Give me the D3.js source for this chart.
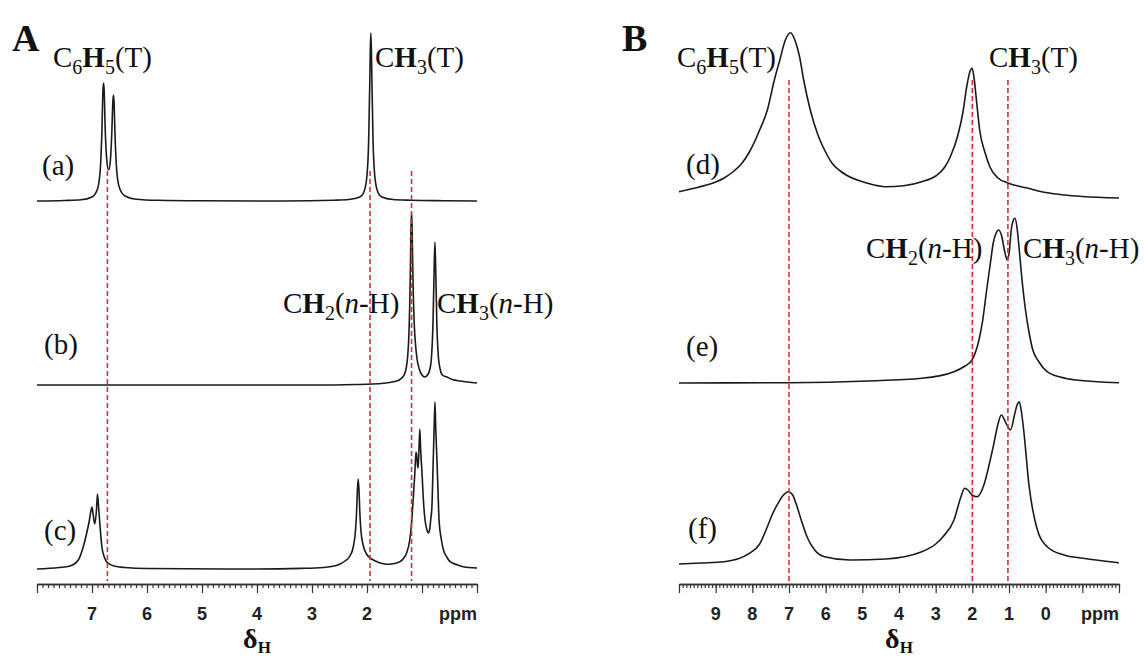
<!DOCTYPE html>
<html>
<head>
<meta charset="utf-8">
<script src="https://cdn.jsdelivr.net/npm/d3@7"></script>
<style>
  html, body { margin: 0; padding: 0; background: #fff; }
  svg { display: block; }
</style>
</head>
<body>
<svg id="chart" width="1144" height="658"></svg>
<script>
// ---- Spectra: [chemical shift (ppm), intensity above the trace's own baseline] ----
// Panel A, trace (a): toluene
const specA_a = [
  [8.0,0],[7.5,0.5],[7.2,1.2],[7.0,4],[6.9,12],[6.85,31],[6.82,70],[6.80,112],[6.79,118],
  [6.78,112],[6.76,72],[6.73,40],[6.70,31],[6.67,38],[6.64,68],[6.62,100],[6.61,106],[6.60,100],
  [6.58,64],[6.55,30],[6.5,13],[6.4,5],[6.2,1.8],[5.8,0.7],[5.0,0.2],[3.5,0],[2.6,0.8],[2.33,1.5],
  [2.13,4],[2.05,10],[2.0,26],[1.97,60],[1.95,117],[1.94,151],[1.93,168],[1.92,151],[1.91,117],
  [1.89,60],[1.86,26],[1.81,10],[1.73,4],[1.53,1.5],[1.2,0.8],[0.6,0.3],[0,0]
];
// Panel A, trace (b): n-heptane
const specA_b = [
  [8,0],[3,0],[2.2,0.5],[1.9,1],[1.7,1.8],[1.5,3.4],[1.4,5.5],[1.33,9.6],[1.29,16],[1.26,29],
  [1.24,48],[1.22,88],[1.21,120],[1.20,156],[1.19,173],[1.18,158],[1.17,125],[1.16,95],[1.14,60],
  [1.12,42],[1.09,26],[1.05,16],[1.0,10],[0.95,8],[0.9,10],[0.86,15],[0.83,26],[0.80,62],[0.78,114],
  [0.765,143],[0.75,114],[0.73,61],[0.70,27],[0.67,16],[0.63,10],[0.55,8],[0.45,5.5],[0.3,4],[0,2]
];
// Panel A, trace (c): mixture
const specA_c = [
  [8,0],[7.6,1.5],[7.4,3],[7.25,9],[7.16,22],[7.1,35],[7.05,48],[7.02,58],[7.0,62],[6.98,55],
  [6.95,45],[6.92,58],[6.9,75],[6.88,62],[6.85,40],[6.82,22],[6.77,11],[6.73,7],[6.6,3],[6.4,1.5],
  [6.0,0.5],[4.0,0],[3.2,0.6],[2.8,1.5],[2.6,3],[2.49,5],[2.4,8],[2.31,13],[2.25,22],[2.21,38],
  [2.19,56],[2.175,78],[2.16,90],[2.145,78],[2.13,56],[2.11,38],[2.07,24],[2.01,15],[1.9,9.5],
  [1.82,7.3],[1.7,5.3],[1.6,4.7],[1.5,5.5],[1.4,7.3],[1.33,11],[1.28,16],[1.22,30],[1.19,46],
  [1.16,70],[1.13,96],[1.11,117],[1.10,115],[1.08,103],[1.07,101],[1.055,120],[1.04,140],
  [1.025,120],[1.0,96],[0.97,65],[0.945,49],[0.91,39],[0.885,36],[0.86,40],[0.84,50],[0.82,62],
  [0.80,100],[0.78,140],[0.764,167],[0.75,140],[0.733,116],[0.71,80],[0.69,49],[0.65,30],
  [0.61,19],[0.55,12],[0.49,7.3],[0.35,4],[0.25,2.3],[0,1]
];
// Panel B, trace (d)
const specB_d = [
  [10,6.3],[9.45,11],[9.0,16],[8.77,20],[8.5,27],[8.3,34],[8.08,46],[7.8,68],[7.59,88],[7.4,118],
  [7.25,138],[7.1,158],[6.96,165.3],[6.83,157],[6.71,141],[6.6,118],[6.42,88],[6.2,62],[6.03,48],
  [5.83,35],[5.6,27],[5.44,23],[4.85,14.7],[4.36,11.3],[3.87,12.3],[3.38,16.3],[3.0,22],[2.75,31],
  [2.6,41.3],[2.4,62],[2.26,85],[2.15,112],[2.06,127],[2.01,130],[1.96,122],[1.88,95],[1.8,68],
  [1.65,45],[1.52,31],[1.3,20],[1.03,15],[0.7,11.5],[0.45,9.5],[0.2,7],[0,5.5],[-0.5,3],
  [-1,1.5],[-2,0]
];
// Panel B, trace (e)
const specB_e = [
  [10,0],[7,0.3],[4.85,2],[3.38,4.7],[2.5,11.3],[2.2,17],[2.01,23],[1.82,43],[1.72,62],[1.62,90],
  [1.5,122],[1.43,140],[1.35,150],[1.28,153],[1.2,147],[1.12,132],[1.05,123],[0.99,132],[0.94,153],
  [0.88,163],[0.84,165],[0.78,155],[0.72,133],[0.65,105],[0.55,73],[0.45,50],[0.35,33],[0.2,22],
  [-0.04,11.3],[-0.4,6],[-0.82,3],[-2,0.3]
];
// Panel B, trace (f)
const specB_f = [
  [10,0],[9.4,1],[8.77,2.3],[8.08,10.7],[7.8,20],[7.59,37.3],[7.45,50],[7.3,60.7],[7.15,69],
  [7.02,72.3],[6.9,69],[6.81,60.7],[6.65,42],[6.51,27.3],[6.3,14],[6.03,7.3],[5.34,4],[4.36,5],
  [3.38,12.3],[3.0,20],[2.8,27.3],[2.5,44],[2.31,67.3],[2.21,75.7],[2.12,74],[2.01,69],[1.87,67.3],
  [1.67,80.7],[1.55,98],[1.43,117.3],[1.3,140],[1.21,149],[1.08,140.7],[0.96,134],[0.84,150.7],
  [0.78,159],[0.72,162.3],[0.66,152],[0.6,134],[0.45,77.3],[0.25,37.3],[-0.04,17.3],[-0.5,9],
  [-1.02,5.7],[-2,1.3]
];

// Vertical stacking offsets of the traces (same units as intensity)
const offsetsA = [383, 199, 15];
const offsetsB = [386, 201, 20];
const traceNamesA = ["(a)", "(b)", "(c)"];
const traceNamesB = ["(d)", "(e)", "(f)"];

// Reference shifts marked with dashed lines
const refLinesA = [6.72, 1.945, 1.19];
const refLinesB = [7.0, 2.0, 1.03];

// Labelled ticks
const tickLabelsA = [7, 6, 5, 4, 3, 2];
const tickLabelsB = [9, 8, 7, 6, 5, 4, 3, 2, 1, 0];

// ---- Layout ----
const svg = d3.select("#chart");
const serif = "'Liberation Serif','Times New Roman',Times,serif";
const sans = "'Liberation Sans',Arial,Helvetica,sans-serif";
const axisY = 584;
const labelSize = 29;

const y = d3.scaleLinear().domain([0, 584]).range([axisY, 0]);
const xA = d3.scaleLinear().domain([8, 0]).range([37, 477]);
const xB = d3.scaleLinear().domain([10, -2]).range([679, 1119]);

function chemLabel(x, yb, parts, size) {
  const t = svg.append("text")
    .attr("x", x)
    .attr("y", yb)
    .attr("font-family", serif)
    .attr("font-size", size)
    .attr("fill", "#111");
  let shifted = 0;
  parts.forEach(p => {
    const s = t.append("tspan").text(p.t);
    if (p.b) s.attr("font-weight", "bold");
    if (p.i) s.attr("font-style", "italic");
    const target = p.sub ? Math.round(size * 0.25) : 0;
    if (target !== shifted) { s.attr("dy", target - shifted); shifted = target; }
    if (p.sub) s.attr("font-size", Math.round(size * 0.68));
  });
  return t;
}

function drawPanel(x, traces, offsets, names, refs, tickLabels, namePos, refTop) {
  const g = svg.append("g");
  const line = d3.line()
    .x(d => x(d[0]))
    .y(d => d[1])
    .curve(d3.curveMonotoneX);

  traces.forEach((tr, i) => {
    const pts = tr.map(d => [d[0], y(d[1] + offsets[i])]);
    g.append("path")
      .attr("d", line(pts))
      .attr("fill", "none")
      .attr("stroke", "#1a1a1a")
      .attr("stroke-width", 1.6)
      .attr("stroke-linejoin", "round");
  });

  // dashed reference lines
  refs.forEach(r => {
    g.append("line")
      .attr("x1", x(r)).attr("x2", x(r))
      .attr("y1", refTop).attr("y2", axisY - 3)
      .attr("stroke", "#e8283c")
      .attr("stroke-width", 1.6)
      .attr("stroke-dasharray", "5,3");
  });

  // axis: minor ticks every 0.1 ppm, major ticks on integers
  const [d0, d1] = x.domain();
  const span = Math.abs(d0 - d1);
  const minor = d3.axisBottom(x).ticks(span * 10).tickSize(4).tickFormat("").tickSizeOuter(0);
  const major = d3.axisBottom(x).ticks(span).tickSize(9).tickFormat("").tickSizeOuter(0);
  [minor, major].forEach(ax => {
    const a = g.append("g").attr("transform", `translate(0,${axisY})`).call(ax);
    a.select(".domain").attr("stroke", "#333").attr("stroke-width", 1.6);
    a.selectAll(".tick line").attr("stroke", "#333").attr("stroke-width", 1.2);
  });

  g.selectAll(".tlabel")
    .data(tickLabels)
    .join("text")
    .attr("class", "tlabel")
    .attr("x", d => x(d))
    .attr("y", 620)
    .attr("text-anchor", "middle")
    .attr("font-family", sans)
    .attr("font-weight", "bold")
    .attr("font-size", 18)
    .attr("fill", "#222")
    .text(d => d);

  g.append("text")
    .attr("x", x.range()[1])
    .attr("y", 620)
    .attr("text-anchor", "end")
    .attr("font-family", sans)
    .attr("font-weight", "bold")
    .attr("font-size", 18)
    .attr("fill", "#222")
    .text("ppm");

  // axis title: delta_H
  const cx = (x.range()[0] + x.range()[1]) / 2;
  const t = svg.append("text")
    .attr("x", cx)
    .attr("y", 648)
    .attr("text-anchor", "middle")
    .attr("font-family", serif)
    .attr("font-weight", "bold")
    .attr("font-size", 28)
    .attr("fill", "#111");
  t.append("tspan").text("δ");
  t.append("tspan").attr("font-size", 17).attr("dy", 5).text("H");

  names.forEach((n, i) => chemLabel(namePos[i][0], namePos[i][1], [{ t: n }], labelSize));
}

// trace name positions (left x, baseline)
const namePosA = [[42, 175], [44, 354], [44, 540]];
const namePosB = [[686, 174], [686, 356], [688, 538]];

drawPanel(xA, [specA_a, specA_b, specA_c], offsetsA, traceNamesA, refLinesA, tickLabelsA, namePosA, 171);
drawPanel(xB, [specB_d, specB_e, specB_f], offsetsB, traceNamesB, refLinesB, tickLabelsB, namePosB, 80);

// panel letters
chemLabel(12, 51, [{ t: "A", b: true }], 38);
chemLabel(622, 51, [{ t: "B", b: true }], 38);

// peak assignments
const C6H5T = [{ t: "C" }, { t: "6", sub: true }, { t: "H", b: true }, { t: "5", sub: true }, { t: "(T)" }];
const CH3T = [{ t: "C" }, { t: "H", b: true }, { t: "3", sub: true }, { t: "(T)" }];
const CH2nH = [{ t: "C" }, { t: "H", b: true }, { t: "2", sub: true }, { t: "(" }, { t: "n", i: true }, { t: "-H)" }];
const CH3nH = [{ t: "C" }, { t: "H", b: true }, { t: "3", sub: true }, { t: "(" }, { t: "n", i: true }, { t: "-H)" }];

chemLabel(53, 67, C6H5T, labelSize);
chemLabel(375, 67, CH3T, labelSize);
chemLabel(283, 313, CH2nH, labelSize);
chemLabel(437, 313, CH3nH, labelSize);

chemLabel(677, 67, C6H5T, labelSize);
chemLabel(989, 67, CH3T, labelSize);
chemLabel(866, 258, CH2nH, labelSize);
chemLabel(1023, 258, CH3nH, labelSize);
</script>
</body>
</html>
